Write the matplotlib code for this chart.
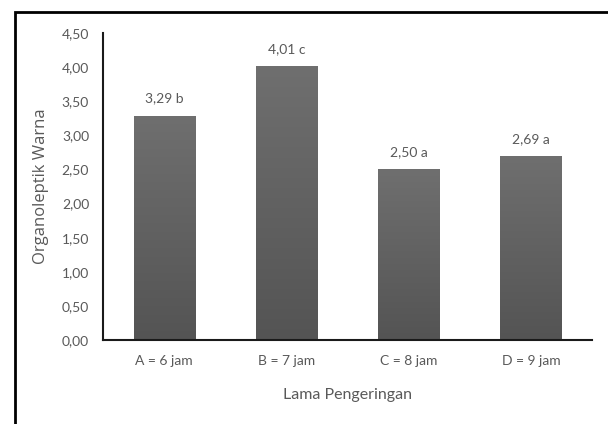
import numpy as np
import matplotlib.pyplot as plt
from matplotlib.colors import LinearSegmentedColormap
from matplotlib.patches import Rectangle

# data lama pengeringan vs organoleptik warna
kategori = ["A = 6 jam", "B = 7 jam", "C = 8 jam", "D = 9 jam"]
nilai = [3.29, 4.01, 2.50, 2.69]
notasi = ["b", "c", "a", "a"]
yticks = [0.0, 0.5, 1.0, 1.5, 2.0, 2.5, 3.0, 3.5, 4.0, 4.5]

plt.rcParams['font.family'] = ['Lato', 'DejaVu Sans']
abu = '#595959'

fig = plt.figure(figsize=(6.08, 4.24), dpi=100)
ax = fig.add_axes([103 / 608, 1 - 340 / 424, 489 / 608, 307 / 424])

x = np.arange(len(kategori))
bars = ax.bar(x, nilai, width=0.5, color='none', edgecolor='none')

# isi batang dengan gradasi abu-abu
grad = np.linspace(0, 1, 256).reshape(-1, 1)
cmap = LinearSegmentedColormap.from_list('g', ['#545454', '#6f6f6f'])
for b in bars:
    x0, w, h = b.get_x(), b.get_width(), b.get_height()
    im = ax.imshow(grad, cmap=cmap, origin='lower', aspect='auto',
                   extent=[x0, x0 + w, 0, h], zorder=2)
    im.set_clip_path(b)

for xi, v, n in zip(x, nilai, notasi):
    ax.text(xi, v + 0.17, ("%.2f" % v).replace('.', ',') + " " + n,
            ha='center', va='bottom', fontsize=10, color=abu)

ax.set_xlim(-0.5, 3.5)
ax.set_ylim(0, 4.5)
ax.set_yticks(yticks)
ax.set_yticklabels([("%.2f" % t).replace('.', ',') for t in yticks])
ax.set_xticks(x)
ax.set_xticklabels(kategori)
ax.tick_params(length=0, labelsize=10, labelcolor=abu)
ax.tick_params(axis='y', pad=10)
ax.tick_params(axis='x', pad=11)

for s in ['top', 'right']:
    ax.spines[s].set_visible(False)
for s in ['left', 'bottom']:
    ax.spines[s].set_linewidth(1.5)
    ax.spines[s].set_color('#1a1a1a')

ax.set_ylabel("Organoleptik Warna", fontsize=12, color=abu, labelpad=9,
              family=['Open Sans', 'DejaVu Sans'])
ax.set_xlabel("Lama Pengeringan", fontsize=11.5, color=abu, labelpad=15)

# bingkai luar
fig.patches.append(Rectangle((15 / 608, -0.1), 1.2, 1 - 11.5 / 424 + 0.1,
                             transform=fig.transFigure, fill=False,
                             edgecolor='black', linewidth=2))

fig.savefig("out.png", dpi=100)
